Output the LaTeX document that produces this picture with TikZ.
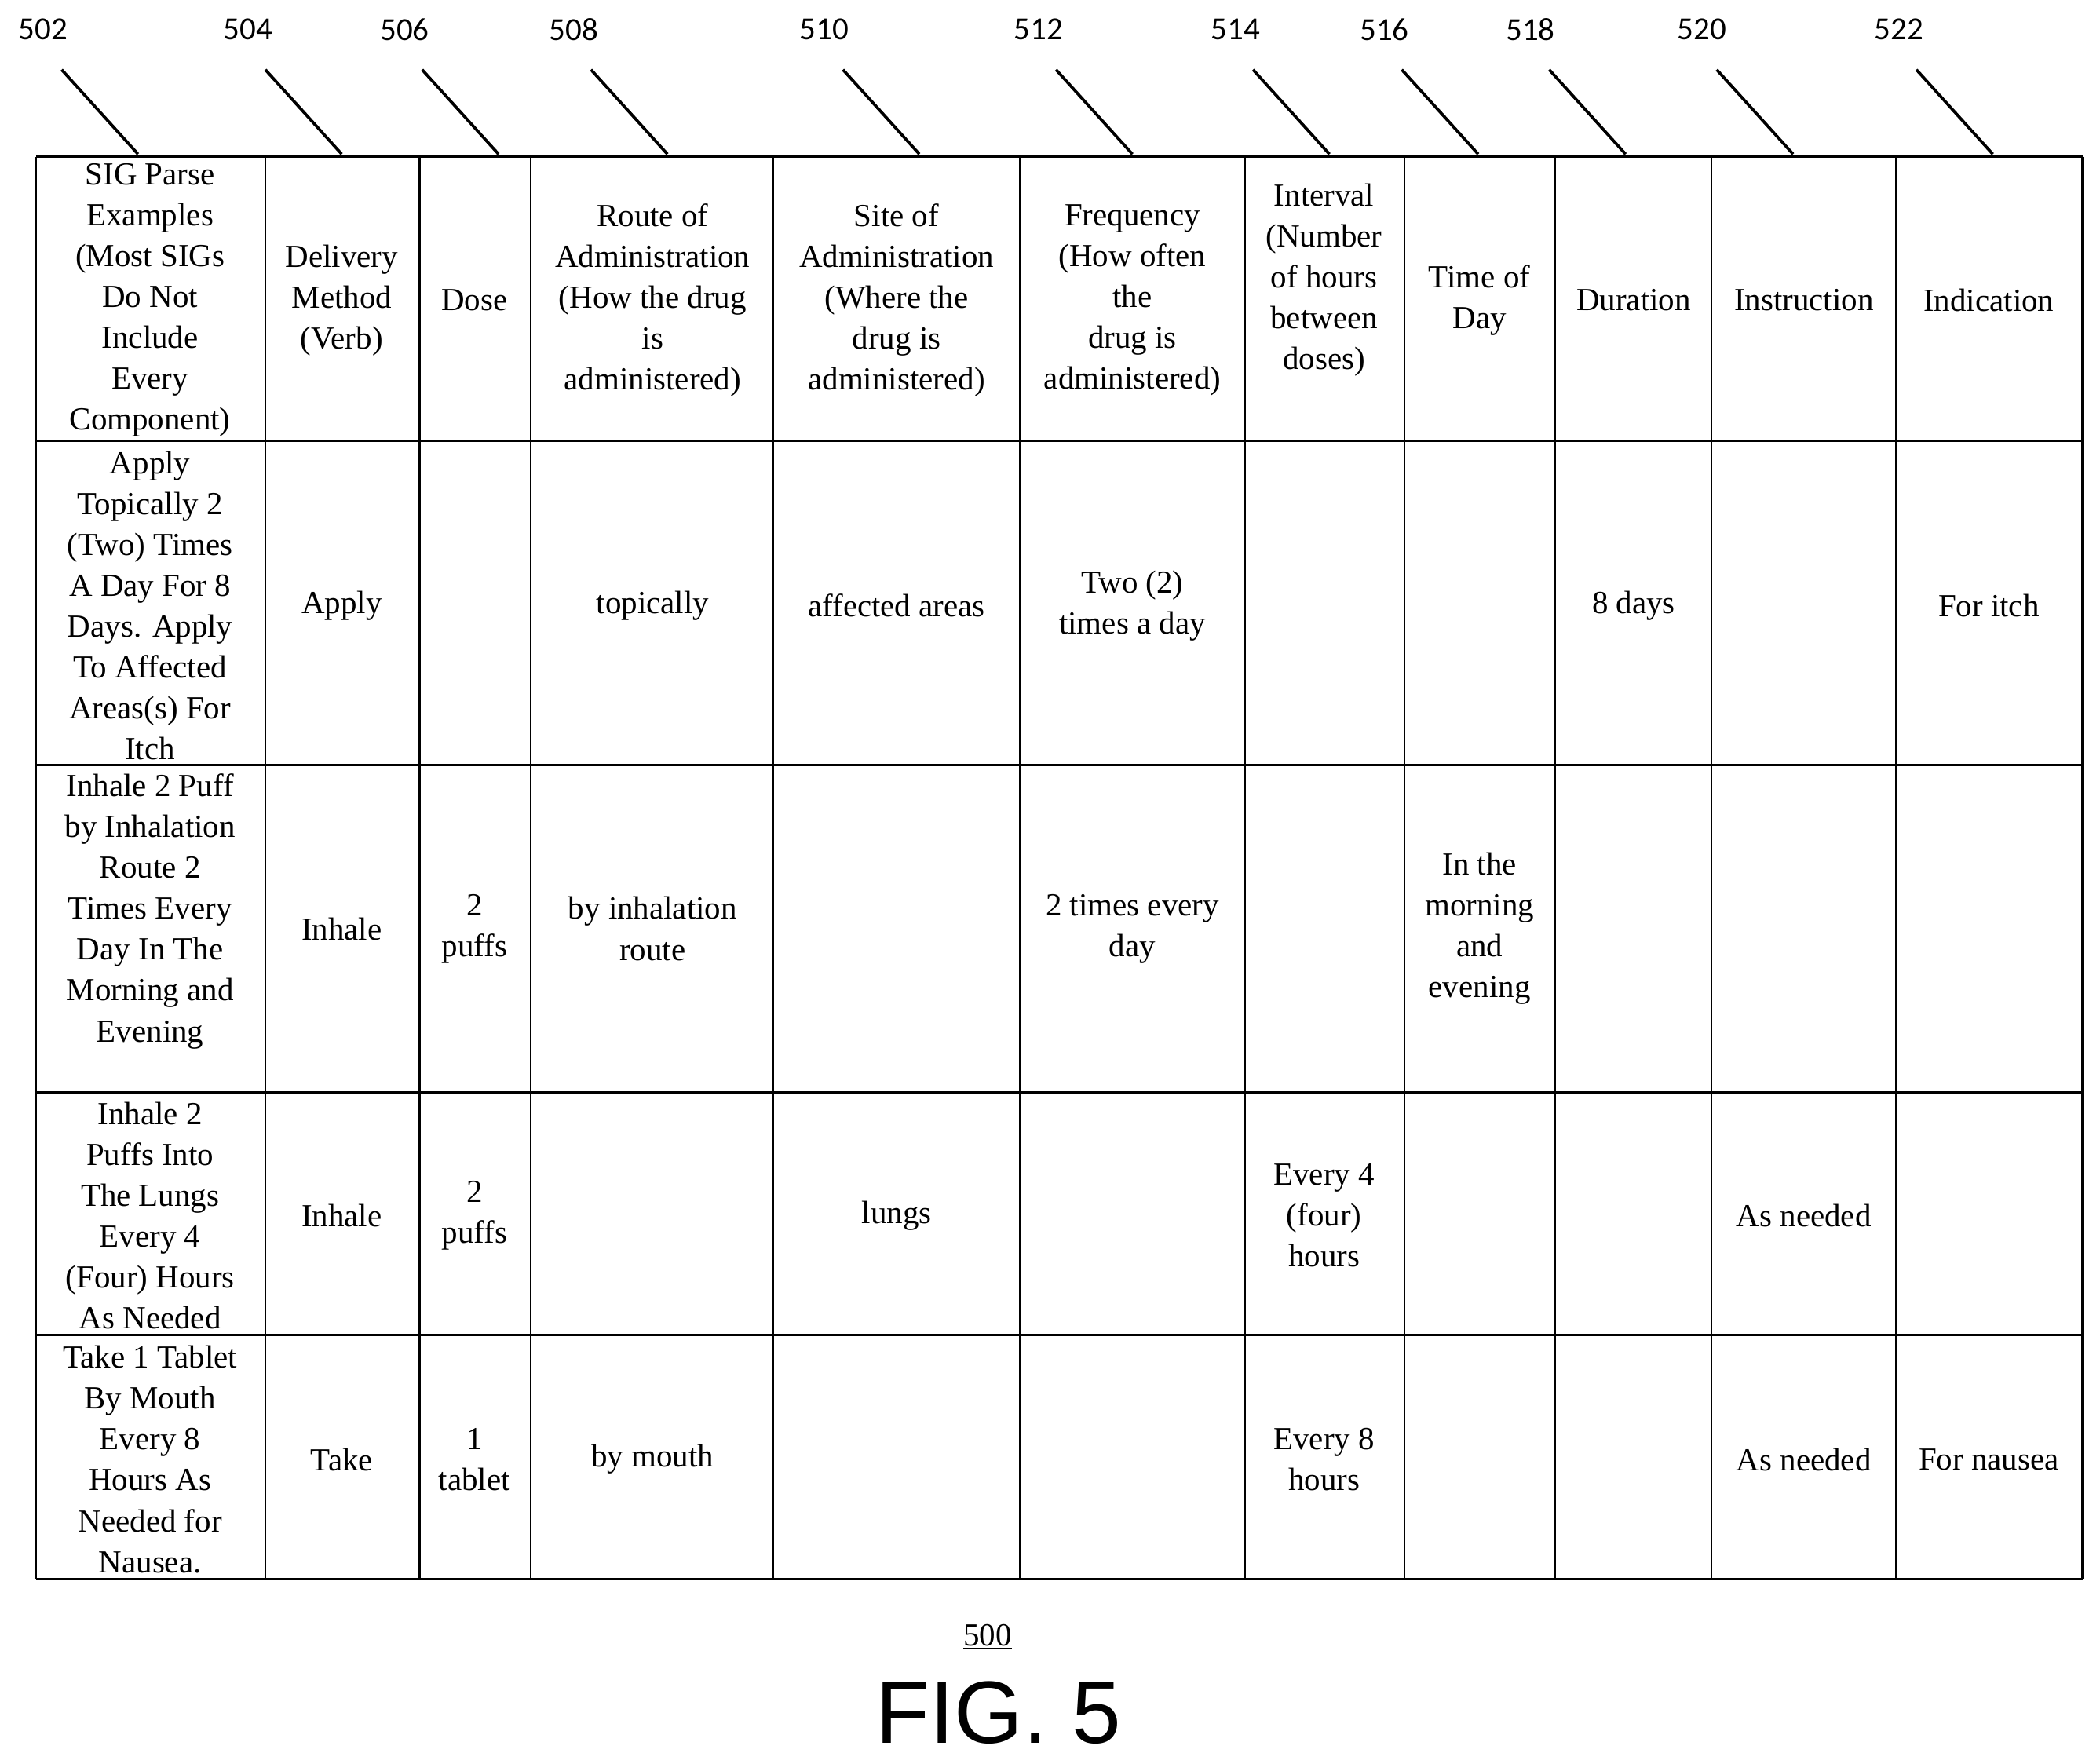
\documentclass[tikz,border=0pt]{standalone}
\usepackage{fontspec}
\setmainfont{Liberation Serif}
\newfontfamily\lblfont{Carlito}
\newfontfamily\figfont{Liberation Sans}
\begin{document}
\begin{tikzpicture}[x=1pt,y=-1pt,
  cell/.style={align=center,inner sep=0pt,font=\fontsize{24}{30.5}\selectfont},
  lbl/.style={font=\lblfont\fontsize{24}{28}\selectfont,inner sep=0pt},
  grid/.style={line width=1.6pt},
  lead/.style={line width=2.2pt}]
\useasboundingbox (0,0) rectangle (1567,1316);
% grid
\foreach \x in {27,198,313,396,577,761,929,1048,1160,1277,1415,1554} \draw[grid] (\x,117) -- (\x,1178);
\foreach \y in {117,329,571,815,996,1178} \draw[grid] (27,\y) -- (1554,\y);
% leader labels
\foreach \n/\lx/\ex in {502/32/103,504/185/255,506/302/372,508/428/498,510/615/686,512/775/845,514/922/992,516/1033/1103,518/1142/1213,520/1270/1338,522/1417/1487}{
  \node[lbl] (L\n) at (\lx,22) {\n};
  \coordinate (E\n) at (\ex,115);
  \coordinate (S\n) at (\ex-57,52);
  \draw[lead] (S\n) -- (E\n);
}
% header row (center y 223)
\node[cell] (h1) at (112,224) {SIG Parse\\Examples\\(Most SIGs\\Do Not\\Include\\Every\\Component)};
\node[cell] (h2) at (255,224) {Delivery\\Method\\(Verb)};
\node[cell] (h3) at (354,224) {Dose};
\node[cell] (h4) at (487,224) {Route of\\Administration\\(How the drug\\is\\administered)};
\node[cell] (h5) at (669,224) {Site of\\Administration\\(Where the\\drug is\\administered)};
\node[cell] (h6) at (845,224) {Frequency\\(How often\\the\\drug is\\administered)};
\node[cell] (h7) at (988,209) {Interval\\(Number\\of hours\\between\\doses)};
\node[cell] (h8) at (1104,224) {Time of\\Day};
\node[cell] (h9) at (1219,224) {Duration};
\node[cell] (h10) at (1346,224) {Instruction};
\node[cell] (h11) at (1484,224) {Indication};
% row 1 (center 452)
\node[cell] (a1) at (112,452) {Apply\\Topically 2\\(Two) Times\\A Day For 8\\Days. Apply\\To Affected\\Areas(s) For\\Itch};
\node[cell] (a2) at (255,452) {Apply};
\node[cell] (a4) at (487,452) {topically};
\node[cell] (a5) at (669,452) {affected areas};
\node[cell] (a6) at (845,452) {Two (2)\\times a day};
\node[cell] (a9) at (1219,452) {8 days};
\node[cell] (a11) at (1484,452) {For itch};
% row 2 (center 693)
\node[cell] (b1) at (112,680) {Inhale 2 Puff\\by Inhalation\\Route 2\\Times Every\\Day In The\\Morning and\\Evening};
\node[cell] (b2) at (255,693) {Inhale};
\node[cell] (b3) at (354,693) {2\\puffs};
\node[cell] (b4) at (487,693) {by inhalation\\route};
\node[cell] (b6) at (845,693) {2 times every\\day};
\node[cell] (b8) at (1104,693) {In the\\morning\\and\\evening};
% row 3 (center 907)
\node[cell] (c1) at (112,907) {Inhale 2\\Puffs Into\\The Lungs\\Every 4\\(Four) Hours\\As Needed};
\node[cell] (c2) at (255,907) {Inhale};
\node[cell] (c3) at (354,907) {2\\puffs};
\node[cell] (c5) at (669,907) {lungs};
\node[cell] (c7) at (988,907) {Every 4\\(four)\\hours};
\node[cell] (c10) at (1346,907) {As needed};
% row 4 (center 1089)
\node[cell] (d1) at (112,1089) {Take 1 Tablet\\By Mouth\\Every 8\\Hours As\\Needed for\\Nausea.};
\node[cell] (d2) at (255,1089) {Take};
\node[cell] (d3) at (354,1089) {1\\tablet};
\node[cell] (d4) at (487,1089) {by mouth};
\node[cell] (d7) at (988,1089) {Every 8\\hours};
\node[cell] (d10) at (1346,1089) {As needed};
\node[cell] (d11) at (1484,1089) {For nausea};
% caption
\node[cell] (num) at (737,1221) {\underline{500}};
\node[font=\figfont\fontsize{66}{70}\selectfont,inner sep=0pt] (fig) at (745,1278) {FIG. 5};
\end{tikzpicture}
\end{document}
